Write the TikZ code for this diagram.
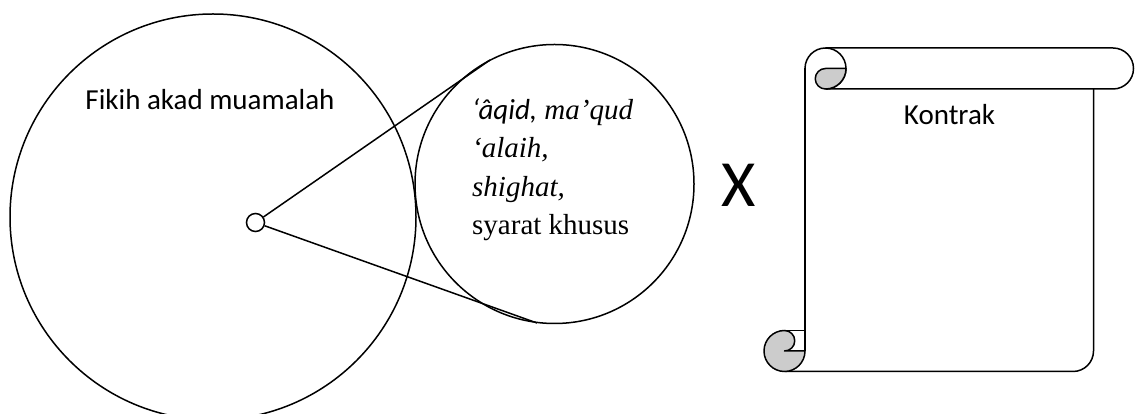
\documentclass[tikz,border=0pt]{standalone}
\usepackage{fontspec}
\newfontfamily\calibrifont{Carlito}
\newfontfamily\timesfont{Liberation Serif}
\begin{document}
\begin{tikzpicture}[x=1pt,y=1pt,
  ln/.style={line width=1.5pt, line join=round},
  ring/.style={circle, draw, line width=1.5pt, inner sep=0pt},
  curl/.style={fill=black!20, draw, line width=1.5pt, line join=round},
  sanslabel/.style={font=\calibrifont\fontsize{29}{35}\selectfont, inner sep=0pt},
  seriflabel/.style={font=\timesfont\fontsize{29}{35}\selectfont, inner sep=0pt, anchor=base west}]
\useasboundingbox (0,0) rectangle (1135,414);

% circles
\node[ring, minimum size=406pt] (big) at (213,197) {};
\node[ring, minimum size=279pt] (zoomc) at (554.5,230) {};
\node[ring, minimum size=18pt] (dot) at (255.5,191.5) {};
\coordinate (t1) at (490,354);
\coordinate (t2) at (537,91);
\draw[ln] (dot) -- (t1);
\draw[ln] (dot) -- (t2);

% labels
\node[sanslabel, anchor=base] (fikih) at (210,304) {Fikih akad muamalah};
\node[seriflabel] (l1) at (472,294) {{\calibrifont\itshape ‘âqid,} \itshape ma’qud};
\node[seriflabel] (l2) at (472,256) {\itshape ‘alaih,};
\node[seriflabel] (l3) at (472,217) {\itshape shighat,};
\node[seriflabel] (l4) at (472,179) {syarat khusus};
\node[inner sep=0pt, anchor=base, font=\calibrifont\fontsize{66}{70}\selectfont] (times) at (739,207) {X};

% scroll
\draw[ln] (825.5,366) -- (1113,366) arc[start angle=90, end angle=-90, radius=20.5] -- (825.5,325);
\draw[ln] (805,345.5) arc[start angle=180, end angle=-90, radius=20.5];
\filldraw[curl] (825.5,345.5) -- (846,345.5) arc[start angle=0, end angle=-90, radius=20.5]
   arc[start angle=270, end angle=90, radius=10.25] -- cycle;
\draw[ln] (805,345.5) -- (805,63);
\draw[ln] (1093.5,325) -- (1093.5,63) arc[start angle=0, end angle=-90, radius=20.5] -- (784.5,42.5);
\filldraw[curl] (805,63) arc[start angle=0, end angle=-270, radius=20.5]
   arc[start angle=90, end angle=-90, radius=10.25] -- cycle;
\draw[ln] (784.5,83.5) -- (805,83.5);
\node[sanslabel, anchor=base] (kontrak) at (949.5,289) {Kontrak};
\end{tikzpicture}
\end{document}
